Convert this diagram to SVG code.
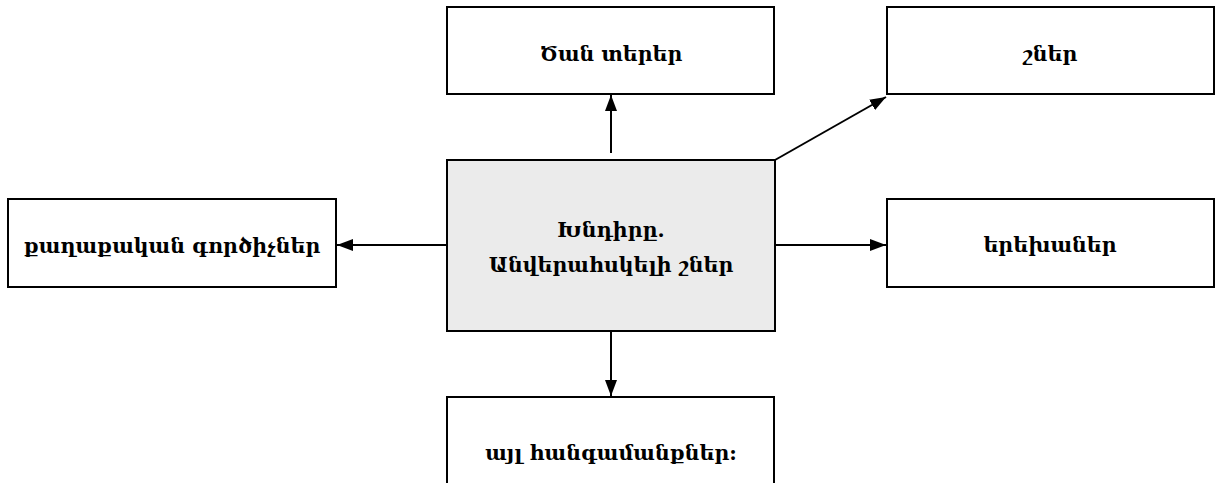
<svg xmlns="http://www.w3.org/2000/svg" width="1215" height="483" viewBox="0 0 1215 483">
<defs>
<style>
.box{fill:#fff;stroke:#000;stroke-width:2}
.main{fill:#ebebeb;stroke:#000;stroke-width:2}
.t{font-family:"DejaVu Serif","Liberation Serif",serif;font-weight:bold;font-size:20.5px;text-anchor:middle;fill:#000}
.c{stroke:#000;stroke-width:2;fill:none;marker-end:url(#ah)}
</style>
<marker id="ah" viewBox="0 0 16 12" refX="16" refY="6" markerWidth="8" markerHeight="6" markerUnits="strokeWidth" orient="auto">
<path d="M0,0 L16,6 L0,12 z" fill="#000"/>
</marker>
</defs>
<rect width="1215" height="483" fill="#fff"/>
<g id="connectors">
<line class="c" x1="611" y1="153" x2="611" y2="95"/>
<line class="c" x1="775" y1="160" x2="886" y2="97"/>
<line class="c" x1="447" y1="245" x2="337" y2="245"/>
<line class="c" x1="775" y1="245" x2="886" y2="245"/>
<line class="c" x1="611" y1="331" x2="611" y2="396"/>
</g>
<g id="center">
<rect class="main" x="447" y="160" width="328" height="171"/>
<text class="t" x="611" y="237">Խնդիրը.</text>
<text class="t" x="611" y="272">Անվերահսկելի շներ</text>
</g>
<g id="top">
<rect class="box" x="447" y="7" width="327" height="87"/>
<text class="t" x="611" y="61">Ծան տերեր</text>
</g>
<g id="topright">
<rect class="box" x="887" y="7" width="327" height="87"/>
<text class="t" x="1050" y="61">շներ</text>
</g>
<g id="left">
<rect class="box" x="8" y="199" width="328" height="88"/>
<text class="t" x="172" y="253">քաղաքական գործիչներ</text>
</g>
<g id="right">
<rect class="box" x="887" y="199" width="327" height="88"/>
<text class="t" x="1050" y="252">երեխաներ</text>
</g>
<g id="bottom">
<rect class="box" x="447" y="397" width="327" height="100"/>
<text class="t" x="611" y="460">այլ հանգամանքներ:</text>
</g>
</svg>
